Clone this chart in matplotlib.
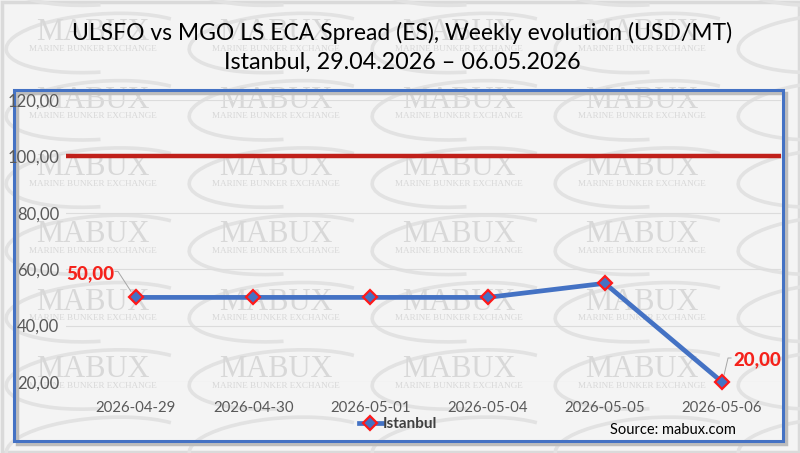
import matplotlib
matplotlib.use("Agg")
import matplotlib.pyplot as plt
from matplotlib.patches import Rectangle, Arc
from matplotlib.lines import Line2D

# ---- data ----
categories = ["2026-04-29", "2026-04-30", "2026-05-01", "2026-05-04", "2026-05-05", "2026-05-06"]
istanbul = [50, 50, 50, 50, 55, 20]
threshold = 100
y_ticks = [20, 40, 60, 80, 100, 120]
title_line1 = "ULSFO vs MGO LS ECA Spread (ES), Weekly evolution (USD/MT)"
title_line2 = "Istanbul, 29.04.2026 \u2013 06.05.2026"
series_name = "Istanbul"
source_text = "Source: mabux.com"

W, H = 800, 453
DPI = 100
fig = plt.figure(figsize=(W / DPI, H / DPI), dpi=DPI)
fig.patch.set_facecolor("#f4f4f4")

FONT = ["Lato", "DejaVu Sans"]

# background axes in pixel coordinates (y downwards)
bg = fig.add_axes([0, 0, 1, 1], zorder=0)
bg.set_xlim(0, W)
bg.set_ylim(H, 0)
bg.axis("off")

# outer frame
bg.add_patch(Rectangle((1.5, 1.5), W - 3, H - 3, fill=False, ec="#dadada", lw=2.5))

# watermark (decorative)
wm_color = "#d8d8d8"
cols = [93 + 183 * k for k in range(-1, 6)]
rows = [33 + 67.3 * k for k in range(-1, 8)]
for cy in rows:
    for cx in cols:
        bg.add_patch(Arc((cx + 8, cy + 10), 190, 58, angle=-4, theta1=95, theta2=345,
                         color="#e2e2e2", lw=2.6, zorder=1))
for cy in rows:
    for cx in cols:
        if cx - 60 < 0 or cx + 60 > W or cy - 12 < 0 or cy + 22 > H:
            continue
        bg.text(cx, cy, "MABUX", fontsize=22, family="Liberation Serif", color=wm_color,
                ha="center", va="center", zorder=2)
        bg.text(cx, cy + 16, "MARINE BUNKER EXCHANGE", fontsize=6.6, family="Liberation Serif",
                color=wm_color, ha="center", va="center", zorder=2)

# blue frame with shadow
bg.add_patch(Rectangle((17, 93), 769, 351, fill=False, ec="#bdbdbd", lw=2.5, zorder=3))
bg.add_patch(Rectangle((14, 90), 769, 351, fill=False, ec="#4472c4", lw=2.2, zorder=4))

# titles
bg.text(402, 33, title_line1, fontsize=16.5, family=FONT, color="#000000",
        ha="center", va="center", zorder=5)
bg.text(402, 62, title_line2, fontsize=16.8, family=FONT, color="#000000",
        ha="center", va="center", zorder=5)

# ---- main axes ----
ax_left, ax_right, ax_top, ax_bottom = 66, 781, 100, 382
ax = fig.add_axes([ax_left / W, (H - ax_bottom) / H, (ax_right - ax_left) / W,
                   (ax_bottom - ax_top) / H], zorder=10)
ax.set_facecolor("none")
x = list(range(len(categories)))
ax.set_xlim(-0.597, 5.503)
ax.set_ylim(20, 120)
ax.set_yticks(y_ticks)
ax.set_yticklabels([f"{v:.2f}".replace(".", ",") for v in y_ticks])
ax.set_xticks(x)
ax.set_xticklabels(categories)
for s in ax.spines.values():
    s.set_visible(False)
ax.tick_params(axis="y", length=0, labelsize=12, labelcolor="#595959", pad=5)
ax.tick_params(axis="x", length=0, labelsize=10.8, labelcolor="#595959", pad=14)
for lab in ax.get_xticklabels() + ax.get_yticklabels():
    lab.set_family(FONT)
ax.grid(axis="y", color="#dcdcdc", lw=0.8)
ax.set_axisbelow(True)

ax.axhline(threshold, color="#c0201a", lw=3.2, zorder=3)
ax.plot(x, istanbul, color="#4472c4", lw=3.4, marker="D", ms=7.5, mfc="#4472c4",
        mec="#ff1a1a", mew=1.6, zorder=4, clip_on=False)


def fmt(v):
    return f"{v:.2f}".replace(".", ",")


def leader(i, offsets):
    px, py = ax.transData.transform((x[i], istanbul[i]))
    inv = ax.transData.inverted()
    pts = [inv.transform((px + dx, py + dy)) for dx, dy in offsets]
    ax.plot([p[0] for p in pts], [p[1] for p in pts], color="#a6a6a6", lw=0.7,
            zorder=3.5, clip_on=False)


# data labels with leader lines
ax.annotate(fmt(istanbul[0]), xy=(x[0], istanbul[0]), xytext=(-46, 24),
            textcoords="offset pixels", ha="center", va="center",
            fontsize=13.5, fontweight="black", color="#f5221b", family=FONT)
leader(0, [(-21, 26), (-18, 26), (-5, 6)])
ax.annotate(fmt(istanbul[-1]), xy=(x[-1], istanbul[-1]), xytext=(35, 22),
            textcoords="offset pixels", ha="center", va="center",
            fontsize=13.5, fontweight="black", color="#f5221b", family=FONT)
leader(5, [(9, 24), (6, 24), (2, 7)])

# legend
leg_handle = Line2D([0], [0], color="#4472c4", lw=3.4, marker="D", ms=7.5,
                    mfc="#4472c4", mec="#ff1a1a", mew=1.6)
leg = fig.legend([leg_handle], [series_name], loc="center",
                 bbox_to_anchor=(398 / W, 1 - 424 / H), frameon=False,
                 handlelength=1.5, handletextpad=0.1,
                 prop={"family": FONT, "size": 11, "weight": "bold"})
for t in leg.get_texts():
    t.set_color("#404040")

bg.text(673, 430, source_text, fontsize=10.5, family=FONT, color="#000000",
        ha="center", va="center", zorder=5)

fig.savefig("out.png", dpi=DPI, facecolor=fig.get_facecolor())
